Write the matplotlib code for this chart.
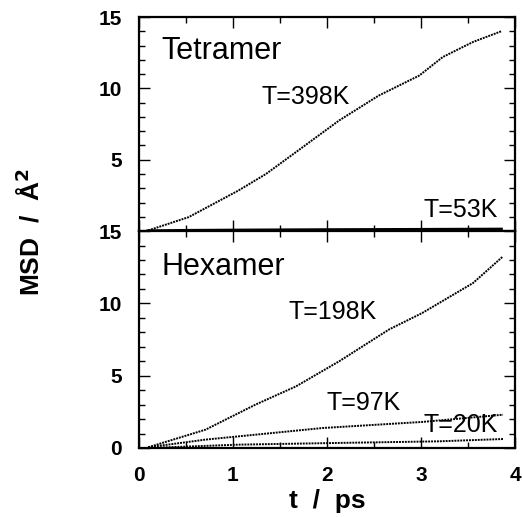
import numpy as np
import matplotlib
matplotlib.use("Agg")
import matplotlib.pyplot as plt
from matplotlib.ticker import MultipleLocator

plt.rcParams['font.family'] = ['Liberation Sans', 'DejaVu Sans']

# --- data (t in ps, MSD in A^2) ---
t_398 = [0.10, 0.53, 1.06, 1.35, 1.60, 2.13, 2.55, 2.98, 3.23, 3.55, 3.85]
msd_398 = [0.05, 0.98, 2.85, 4.0, 5.2, 7.76, 9.5, 10.9, 12.2, 13.25, 14.0]

t_53 = [0.10, 0.5, 1.0, 2.0, 3.0, 3.85]
msd_53 = [0.0, 0.03, 0.05, 0.08, 0.1, 0.12]

t_198 = [0.10, 0.71, 1.24, 1.67, 2.13, 2.66, 3.01, 3.55, 3.87]
msd_198 = [0.05, 1.27, 3.0, 4.26, 6.0, 8.2, 9.33, 11.4, 13.25]

t_97 = [0.10, 0.71, 1.24, 1.95, 3.01, 3.87]
msd_97 = [0.05, 0.58, 0.92, 1.38, 1.8, 2.3]

t_20 = [0.10, 1.06, 2.13, 3.19, 3.87]
msd_20 = [0.0, 0.23, 0.35, 0.46, 0.62]

fig = plt.figure(figsize=(5.22, 5.17), dpi=100)
ax1 = fig.add_axes([0.266, 0.553, 0.721, 0.414])
ax2 = fig.add_axes([0.266, 0.1335, 0.721, 0.4195])

line_kw = dict(color='black', lw=1.4, ls=(0, (1, 0.5)))

ax1.plot(t_398, msd_398, **line_kw)
ax1.plot(t_53, msd_53, color='black', lw=2.5)

ax2.plot(t_198, msd_198, **line_kw)
ax2.plot(t_97, msd_97, **line_kw)
ax2.plot(t_20, msd_20, **line_kw)

for ax in (ax1, ax2):
    ax.set_xlim(0, 4)
    ax.set_ylim(0, 15)
    ax.xaxis.set_major_locator(MultipleLocator(1))
    ax.xaxis.set_minor_locator(MultipleLocator(0.5))
    ax.yaxis.set_major_locator(MultipleLocator(5))
    ax.yaxis.set_minor_locator(MultipleLocator(1))
    ax.tick_params(which='both', direction='in', top=True, right=True, width=1.0)
    ax.tick_params(which='major', length=8, labelsize=15, pad=12)
    ax.tick_params(which='minor', length=4)
    for s in ax.spines.values():
        s.set_linewidth(1.6)

ax1.set_xticklabels([])
ax1.set_yticks([5, 10, 15])
ax1.set_yticklabels(['5', '10', '15'], fontweight='bold')
ax2.set_yticks([0, 5, 10, 15])
ax2.set_yticklabels(['0', '5', '10', '15'], fontweight='bold')
ax2.set_xticks([0, 1, 2, 3, 4])
ax2.set_xticklabels(['0', '1', '2', '3', '4'], fontweight='bold')
ax2.tick_params(axis='x', pad=13)

ax1.text(0.06, 0.84, 'Tetramer', transform=ax1.transAxes, fontsize=22, va='center')
ax1.text(0.444, 0.626, 'T=398K', transform=ax1.transAxes, fontsize=18, ha='center', va='center')
ax1.text(0.854, 0.098, 'T=53K', transform=ax1.transAxes, fontsize=18, ha='center', va='center')

ax2.text(0.06, 0.834, 'Hexamer', transform=ax2.transAxes, fontsize=22, va='center')
ax2.text(0.516, 0.627, 'T=198K', transform=ax2.transAxes, fontsize=18, ha='center', va='center')
ax2.text(0.598, 0.207, 'T=97K', transform=ax2.transAxes, fontsize=18, ha='center', va='center')
ax2.text(0.854, 0.106, 'T=20K', transform=ax2.transAxes, fontsize=18, ha='center', va='center')

ax2.set_xlabel('t  /  ps', fontsize=19, fontweight='bold', labelpad=3)
fig.text(0.058, 0.551, 'MSD  /  Å$^{\\mathbf{2}}$', rotation=90, fontsize=19,
         fontweight='bold', ha='center', va='center')

fig.savefig('out.png', dpi=100)
